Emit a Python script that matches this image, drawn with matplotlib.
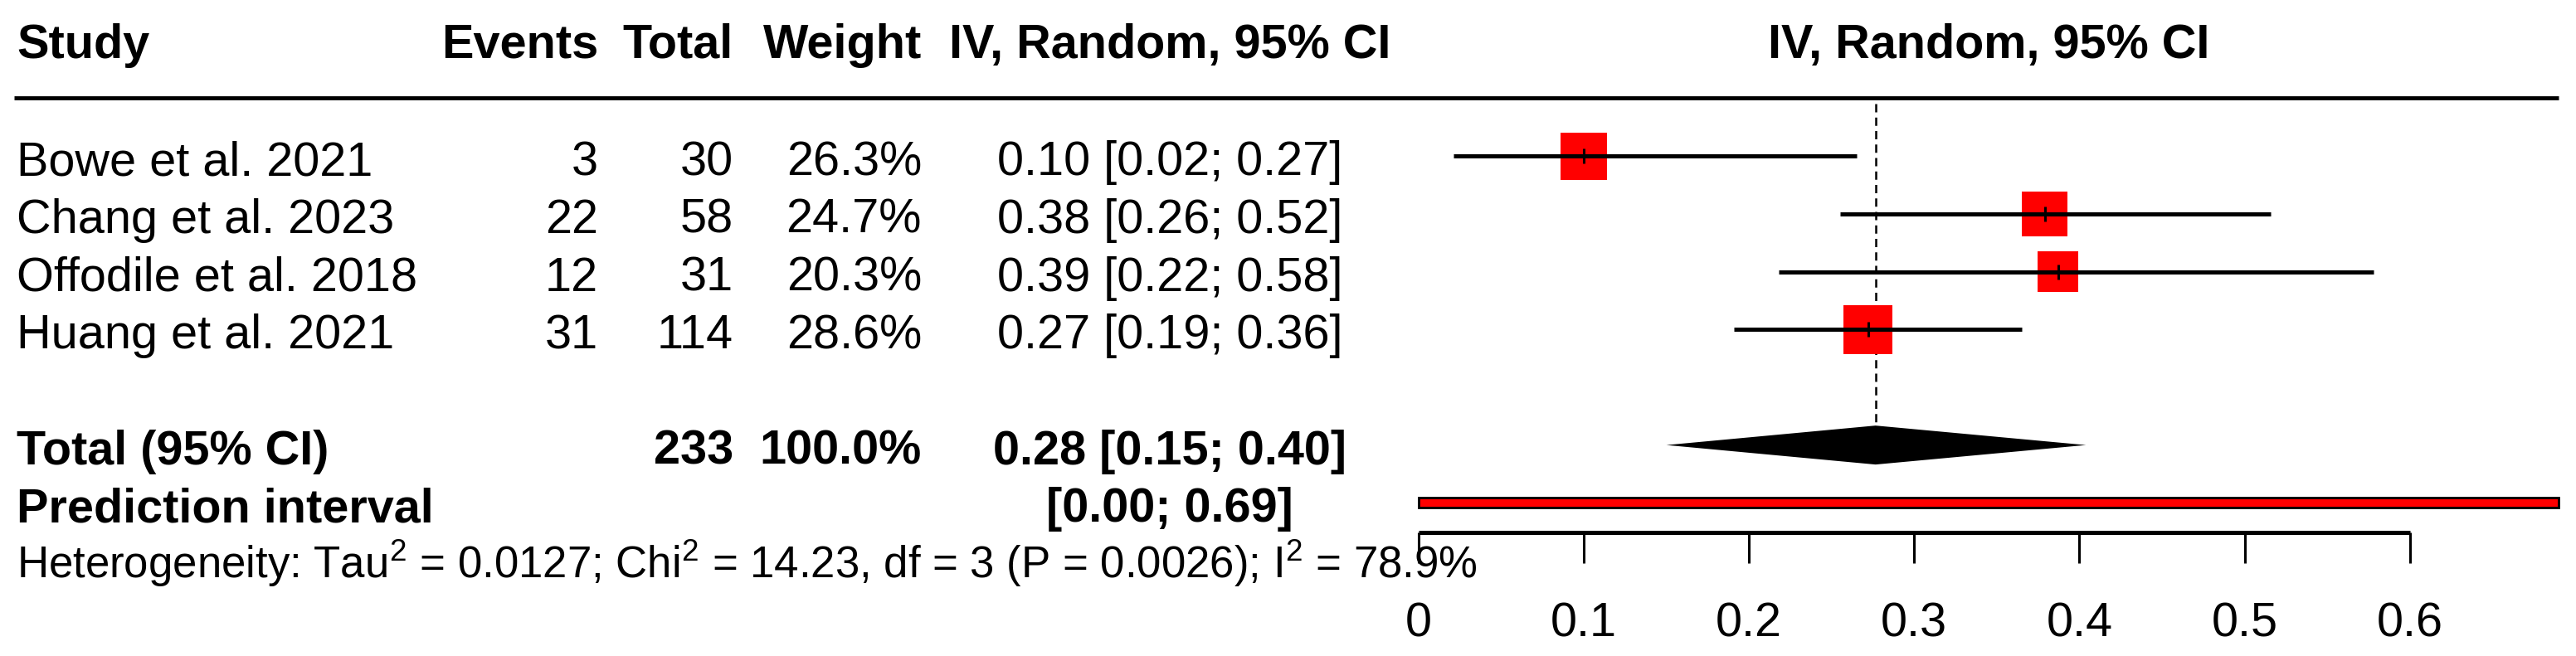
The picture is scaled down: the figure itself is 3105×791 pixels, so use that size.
import numpy as np
import matplotlib
matplotlib.use("Agg")
import matplotlib.pyplot as plt
from matplotlib import transforms
from matplotlib.patches import Rectangle

plt.rcParams['font.family'] = ['Liberation Sans', 'DejaVu Sans']
plt.rcParams['mathtext.default'] = 'regular'

# data
studies = ["Bowe et al. 2021", "Chang et al. 2023", "Offodile et al. 2018", "Huang et al. 2021"]
events = [3, 22, 12, 31]
totals = [30, 58, 31, 114]
weights = [26.3, 24.7, 20.3, 28.6]
est = [0.100, 0.379, 0.387, 0.272]
lower = [0.021, 0.255, 0.218, 0.191]
upper = [0.265, 0.516, 0.578, 0.365]
ci_labels = ["0.10 [0.02; 0.27]", "0.38 [0.26; 0.52]", "0.39 [0.22; 0.58]", "0.27 [0.19; 0.36]"]

total_n = 233
pooled = 0.2766
pooled_lo = 0.150
pooled_hi = 0.404
pooled_label = "0.28 [0.15; 0.40]"
pred_lo = 0.0
pred_hi = 0.69
pred_label = "[0.00; 0.69]"
het_text = "Heterogeneity: Tau$^2$ = 0.0127; Chi$^2$ = 14.23, df = 3 (P = 0.0026); I$^2$ = 78.9%"

ticks = [0, 0.1, 0.2, 0.3, 0.4, 0.5, 0.6]
tick_labels = ["0", "0.1", "0.2", "0.3", "0.4", "0.5", "0.6"]

W, H = 3105, 791
fig = plt.figure(figsize=(W / 100, H / 100), dpi=100)
ax = fig.add_axes([0, 0, 1, 1])
ax.axis("off")

# pixel layout: x_px = 1710 + 1991 * v ; y_px = 188.3 + 69.67 * row
x0, xs = 1710, 1991
y0, ys = 188.3, 69.67
ax.set_xlim(-x0 / xs, (W - x0) / xs)
ax.set_ylim((H - y0) / ys, -y0 / ys)

tr = transforms.blended_transform_factory(fig.transFigure, ax.transData)
def px(x):
    return x / W

fs = 41.5
base = 0.33  # baseline offset below row centre

# header
hy = -1.70
ax.text(px(20), hy, "Study", transform=tr, fontsize=fs, fontweight="bold", va="baseline", ha="left")
ax.text(px(721), hy, "Events", transform=tr, fontsize=fs, fontweight="bold", va="baseline", ha="right")
ax.text(px(884), hy, "Total", transform=tr, fontsize=fs, fontweight="bold", va="baseline", ha="right")
ax.text(px(1111), hy, "Weight", transform=tr, fontsize=fs, fontweight="bold", va="baseline", ha="right")
ax.text(px(1410), hy, "IV, Random, 95% CI", transform=tr, fontsize=fs, fontweight="bold", va="baseline", ha="center")
ax.text((pred_lo + pred_hi) / 2, hy, "IV, Random, 95% CI", fontsize=fs, fontweight="bold", va="baseline", ha="center")

# rule under header
ax.plot([-(x0 - 17) / xs, pred_hi], [-1.01, -1.01], color="black", lw=3.5, solid_capstyle="butt")

rows = np.arange(len(studies))
for i in rows:
    y = i + base
    ax.text(px(20), y, studies[i], transform=tr, fontsize=fs, va="baseline", ha="left")
    ax.text(px(721), y, str(events[i]), transform=tr, fontsize=fs, va="baseline", ha="right")
    ax.text(px(884), y, str(totals[i]), transform=tr, fontsize=fs, va="baseline", ha="right")
    ax.text(px(1111), y, "%.1f%%" % weights[i], transform=tr, fontsize=fs, va="baseline", ha="right")
    ax.text(px(1410), y, ci_labels[i], transform=tr, fontsize=fs, va="baseline", ha="center")

# reference line at pooled estimate
ax.vlines(pooled, -0.91, 4.66, color="black", lw=1.8, linestyles=(0, (4, 2.5)))

# squares, then CIs drawn over them
sizes = [(11 * np.sqrt(w) * 0.72) ** 2 for w in weights]
ax.scatter(est, rows, s=sizes, marker="s", color="#ff0000", linewidths=0, zorder=2)
ax.hlines(rows, lower, upper, color="black", lw=3.6, zorder=3)
ax.scatter(est, rows, s=150, marker="|", color="black", linewidths=2.2, zorder=4)

# total row
ty = 5
ax.text(px(20), ty + base, "Total (95% CI)", transform=tr, fontsize=fs, fontweight="bold", va="baseline", ha="left")
ax.text(px(884), ty + base, str(total_n), transform=tr, fontsize=fs, fontweight="bold", va="baseline", ha="right")
ax.text(px(1111), ty + base, "100.0%", transform=tr, fontsize=fs, fontweight="bold", va="baseline", ha="right")
ax.text(px(1410), ty + base, pooled_label, transform=tr, fontsize=fs, fontweight="bold", va="baseline", ha="center")
dh = 0.337
ax.fill([pooled_lo, pooled, pooled_hi, pooled], [ty, ty - dh, ty, ty + dh], color="black", lw=0, zorder=3)

# prediction interval
py = 6
ax.text(px(20), py + base, "Prediction interval", transform=tr, fontsize=fs, fontweight="bold", va="baseline", ha="left")
ax.text(px(1410), py + base, pred_label, transform=tr, fontsize=fs, fontweight="bold", va="baseline", ha="center")
ph = 12 / ys
ax.add_patch(Rectangle((pred_lo, py - ph / 2), pred_hi - pred_lo, ph,
                       facecolor="#ff0000", edgecolor="black", lw=2, zorder=3))

# heterogeneity
ax.text(px(20), 7.30, het_text, transform=tr, fontsize=38, va="baseline", ha="left")

# x axis
ay = 6.51
ax.plot([ticks[0], ticks[-1]], [ay, ay], color="black", lw=3.6, solid_capstyle="butt", zorder=2)
ax.vlines(ticks, ay, 7.04, color="black", lw=2.2)
for t, lab in zip(ticks, tick_labels):
    ax.text(t, 8.32, lab, fontsize=fs, va="baseline", ha="center")

fig.savefig("out.png", dpi=100)
